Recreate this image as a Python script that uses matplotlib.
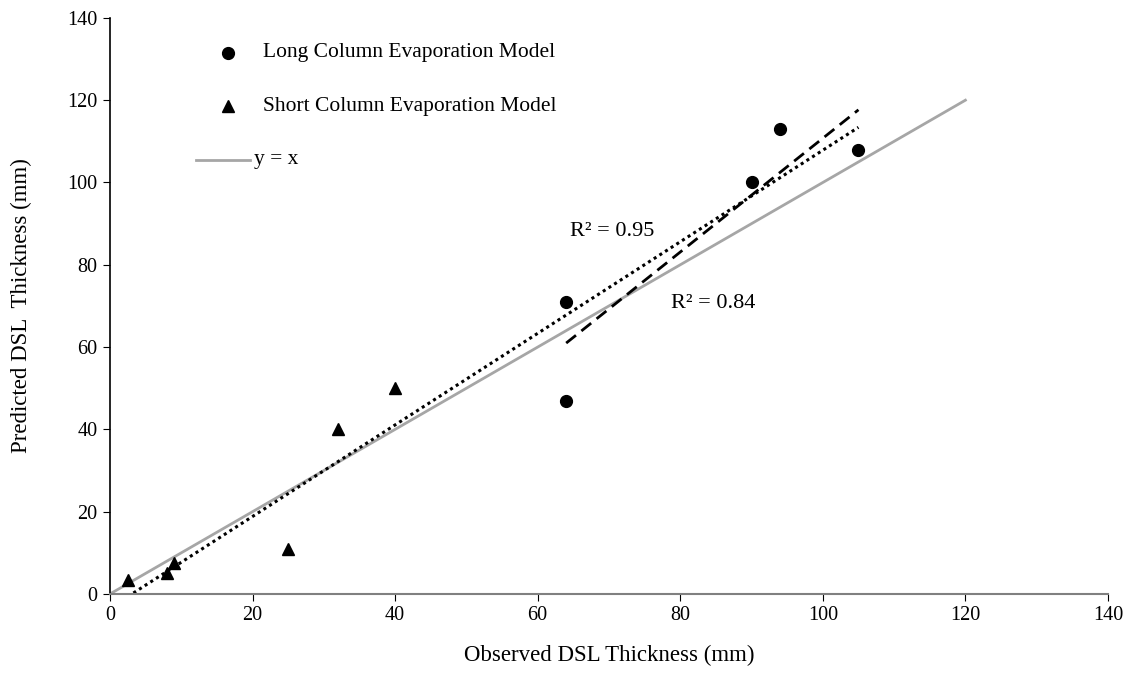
import numpy as np
import matplotlib.pyplot as plt

# Observed vs predicted DSL thickness (mm)
long_obs = [64, 64, 90, 94, 105]
long_pred = [71, 47, 100, 113, 108]
short_obs = [2.5, 8, 9, 25, 32, 40]
short_pred = [3.5, 5, 7.5, 11, 40, 50]

plt.rcParams['font.family'] = ['Liberation Serif', 'DejaVu Serif']

fig = plt.figure(figsize=(11.3, 6.73), dpi=100)
ax = fig.add_axes([0.0973, 0.1174, 0.8832, 0.856])

# y = x reference line
ax.plot([0, 120], [0, 120], color='#a6a6a6', lw=2, zorder=1)

# trendline for long column model
p = np.polyfit(long_obs, long_pred, 1)
xl = np.array([min(long_obs), max(long_obs)])
ax.plot(xl, np.polyval(p, xl), color='black', lw=2, ls=(0, (4.5, 2.5)), zorder=2)

# trendline for all points
all_obs = np.array(long_obs + short_obs)
all_pred = np.array(long_pred + short_pred)
p2 = np.polyfit(all_obs, all_pred, 1)
xa = np.array([all_obs.min(), all_obs.max()])
ax.plot(xa, np.polyval(p2, xa), color='black', lw=2.2, ls=(0, (1, 1.2)), zorder=2)

ax.plot(long_obs, long_pred, 'o', color='black', ms=8.5, zorder=3)
ax.plot(short_obs, short_pred, '^', color='black', ms=8.5, zorder=3)

ax.text(64.5, 88, 'R² = 0.95', fontsize=16, va='center')
ax.text(78.7, 70.7, 'R² = 0.84', fontsize=16, va='center')

# legend drawn by hand like the original
ax.plot([16.5], [131.5], 'o', color='black', ms=8.5, clip_on=False)
ax.text(21.5, 131.5, 'Long Column Evaporation Model', fontsize=15.5, va='center')
ax.plot([16.5], [118.5], '^', color='black', ms=8.5, clip_on=False)
ax.text(21.5, 118.5, 'Short Column Evaporation Model', fontsize=15.5, va='center')
ax.plot([12.1, 19.7], [105.5, 105.5], color='#a6a6a6', lw=2)
ax.text(20.2, 105.5, 'y = x', fontsize=15.5, va='center')

ax.set_xlim(0, 140)
ax.set_ylim(0, 140)
ax.set_xticks(range(0, 141, 20))
ax.set_yticks(range(0, 141, 20))
ax.tick_params(labelsize=14.5, length=5, direction='out', pad=4)
ax.spines['top'].set_visible(False)
ax.spines['right'].set_visible(False)
ax.spines['bottom'].set_color('#808080')
ax.spines['bottom'].set_linewidth(1.5)
ax.spines['left'].set_linewidth(1.2)
ax.set_xlabel('Observed DSL Thickness (mm)', fontsize=16.5, labelpad=14)
ax.set_ylabel('Predicted DSL  Thickness (mm)', fontsize=16.5, labelpad=25)

fig.savefig('out.png', dpi=100)
